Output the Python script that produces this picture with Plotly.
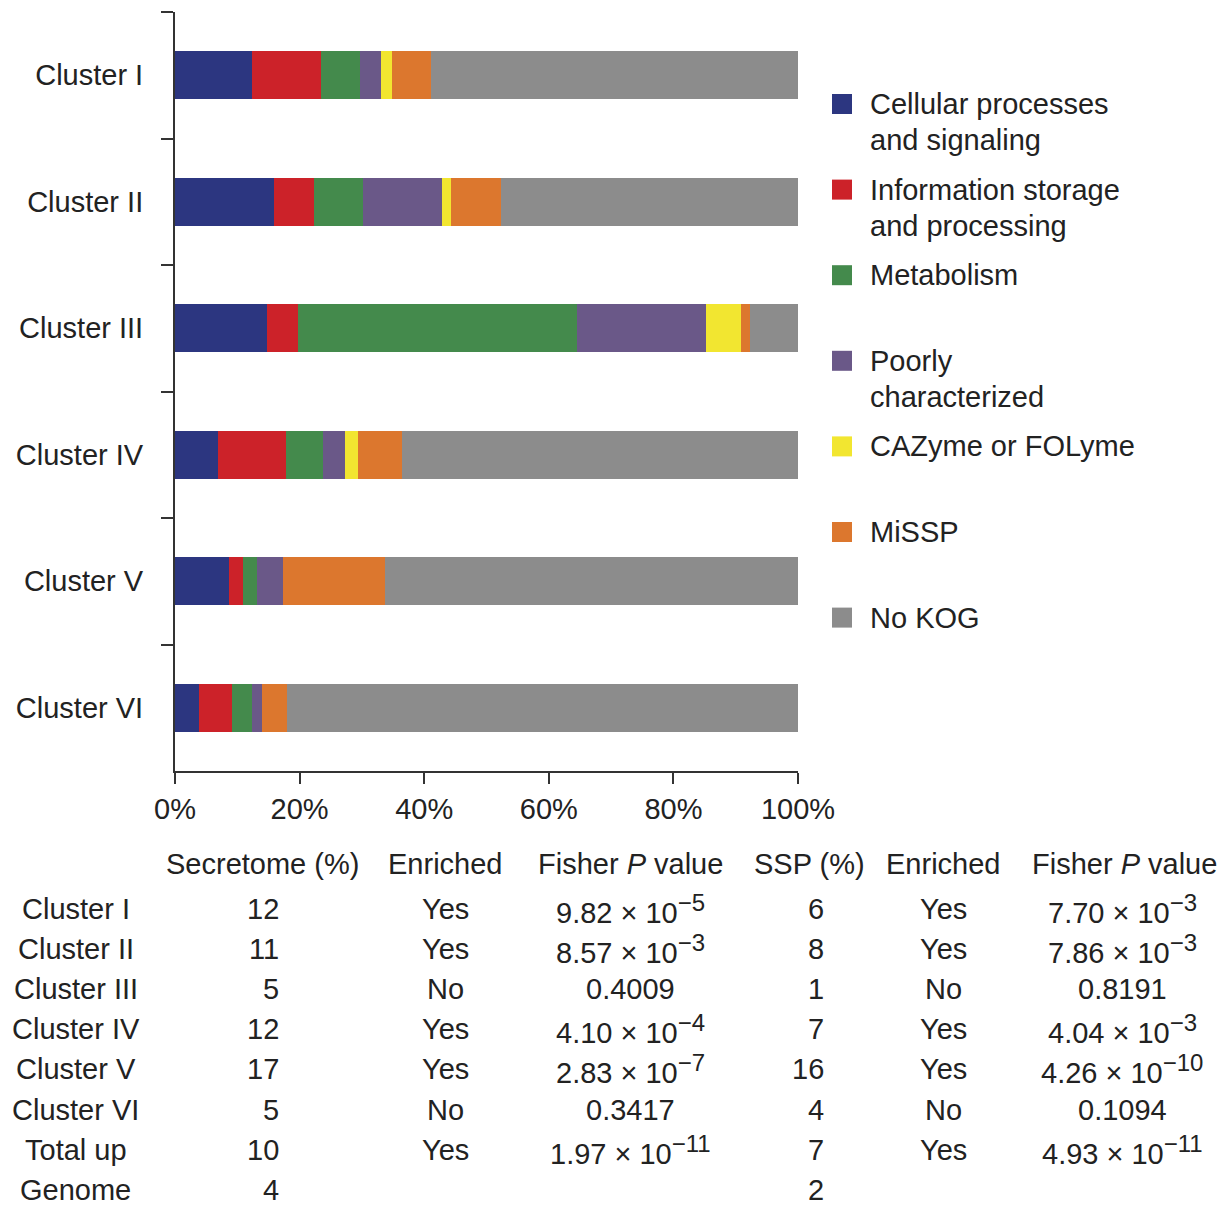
import plotly.graph_objects as go

# ---------------- data ----------------
clusters = ["Cluster I", "Cluster II", "Cluster III", "Cluster IV", "Cluster V", "Cluster VI"]

categories = ["Cellular processes<br>and signaling",
              "Information storage<br>and processing",
              "Metabolism",
              "Poorly<br>characterized",
              "CAZyme or FOLyme",
              "MiSSP",
              "No KOG"]

cellular = [12.3, 15.9, 14.8, 6.9, 8.6, 3.8]
information = [11.1, 6.4, 4.9, 10.9, 2.3, 5.3]
metabolism = [6.3, 7.9, 44.8, 5.9, 2.3, 3.3]
poorly = [3.3, 12.6, 20.7, 3.6, 4.2, 1.6]
cazyme = [1.8, 1.5, 5.7, 2.1, 0.0, 0.0]
missp = [6.3, 8.1, 1.4, 7.1, 16.3, 4.0]
no_kog = [58.9, 47.6, 7.7, 63.5, 66.3, 82.0]

colors = ["#2c3680", "#cc2229", "#448a4c", "#6a5888", "#f2e630", "#dc772e", "#8c8c8c"]

x_ticks = [0, 20, 40, 60, 80, 100]
x_tick_labels = ["0%", "20%", "40%", "60%", "80%", "100%"]

# table below the chart
table_header = ["Secretome (%)", "Enriched", "Fisher <i>P</i> value",
                "SSP (%)", "Enriched", "Fisher <i>P</i> value"]
table_rows = ["Cluster I", "Cluster II", "Cluster III", "Cluster IV",
              "Cluster V", "Cluster VI", "Total up", "Genome"]
secretome_pct = ["12", "11", "5", "12", "17", "5", "10", "4"]
secretome_enriched = ["Yes", "Yes", "No", "Yes", "Yes", "No", "Yes", ""]
secretome_p_mant = ["9.82", "8.57", "0.4009", "4.10", "2.83", "0.3417", "1.97", ""]
secretome_p_exp = ["−5", "−3", "", "−4", "−7", "", "−11", ""]
ssp_pct = ["6", "8", "1", "7", "16", "4", "7", "2"]
ssp_enriched = ["Yes", "Yes", "No", "Yes", "Yes", "No", "Yes", ""]
ssp_p_mant = ["7.70", "7.86", "0.8191", "4.04", "4.26", "0.1094", "4.93", ""]
ssp_p_exp = ["−3", "−3", "", "−3", "−10", "", "−11", ""]

# ---------------- geometry ----------------
W, H = 1229, 1205
PL, PR, PT, PB = 175, 798, 12, 771   # plot area in pixels
FONT = "Liberation Sans, Arial, Helvetica, sans-serif"
TXT = "#222222"
FS = 29


def px(x):
    return (x - PL) / (PR - PL)


def py(y):
    return (PB - y) / (PB - PT)


def pval(m, e):
    if not m:
        return ""
    if not e:
        return m
    return f"{m} × 10<sup><span style='font-size:24px'>{e}</span></sup>"


secretome_p = [pval(m, e) for m, e in zip(secretome_p_mant, secretome_p_exp)]
ssp_p = [pval(m, e) for m, e in zip(ssp_p_mant, ssp_p_exp)]

series = [cellular, information, metabolism, poorly, cazyme, missp, no_kog]

fig = go.Figure()
for name, vals, col in zip(categories, series, colors):
    fig.add_trace(go.Bar(
        y=clusters, x=vals, orientation="h", name=name.replace("<br>", " "),
        marker=dict(color=col, line=dict(width=0)), showlegend=False,
    ))

annotations = []
shapes = []

# custom legend
leg_y0 = 104
leg_step = 85.6
line_h = 36
for i, (name, col) in enumerate(zip(categories, colors)):
    cy = leg_y0 + i * leg_step
    shapes.append(dict(type="rect", xref="paper", yref="paper",
                       x0=px(832), x1=px(852), y0=py(cy + 10), y1=py(cy - 10),
                       fillcolor=col, line=dict(width=0)))
    for j, line in enumerate(name.split("<br>")):
        annotations.append(dict(xref="paper", yref="paper", x=px(868), y=py(cy + j * line_h),
                                xanchor="left", yanchor="middle", showarrow=False,
                                text=line, font=dict(family=FONT, size=FS, color=TXT)))

# table
header_x = [262, 445, 630, 809, 943, 1124]
header_y = 864
for t, hx in zip(table_header, header_x):
    annotations.append(dict(xref="paper", yref="paper", x=px(hx), y=py(header_y),
                            xanchor="center", yanchor="middle", showarrow=False,
                            text=t, font=dict(family=FONT, size=FS, color=TXT)))

row_y0 = 909
row_step = 40.1
cols = [
    (table_rows, 76, "center"),
    (secretome_pct, 281, "right"),
    (secretome_enriched, 445, "center"),
    (secretome_p, 630, "center"),
    (ssp_pct, 826, "right"),
    (ssp_enriched, 943, "center"),
    (ssp_p, 1122, "center"),
]
for vals, cx, anchor in cols:
    for i, v in enumerate(vals):
        if not v:
            continue
        annotations.append(dict(xref="paper", yref="paper", x=px(cx), y=py(row_y0 + i * row_step),
                                xanchor=anchor, yanchor="middle", showarrow=False,
                                text=v, font=dict(family=FONT, size=FS, color=TXT)))

fig.update_layout(
    width=W, height=H,
    margin=dict(l=PL, r=W - PR, t=PT, b=H - PB, pad=0),
    barmode="stack", bargap=0.62,
    plot_bgcolor="white", paper_bgcolor="white",
    font=dict(family=FONT, size=FS, color=TXT),
    showlegend=False,
    annotations=annotations, shapes=shapes,
)
fig.update_xaxes(range=[0, 100], tickvals=x_ticks, ticktext=x_tick_labels,
                 showgrid=False, zeroline=False, showline=True, linecolor="#333333", linewidth=2,
                 ticks="outside", ticklen=11, tickwidth=2, tickcolor="#333333",
                 tickfont=dict(family=FONT, size=FS, color=TXT))
fig.update_yaxes(type="category", categoryorder="array", categoryarray=clusters,
                 range=[5.5, -0.5], tickson="boundaries",
                 showgrid=False, zeroline=False, showline=True, linecolor="#333333", linewidth=2,
                 ticks="outside", ticklen=12, tickwidth=2, tickcolor="#333333",
                 ticklabelstandoff=24,
                 tickfont=dict(family=FONT, size=FS, color=TXT))

fig.write_html("out.html", config={"displayModeBar": False},
               post_script="document.body.style.margin='0';document.body.style.overflow='hidden';")
